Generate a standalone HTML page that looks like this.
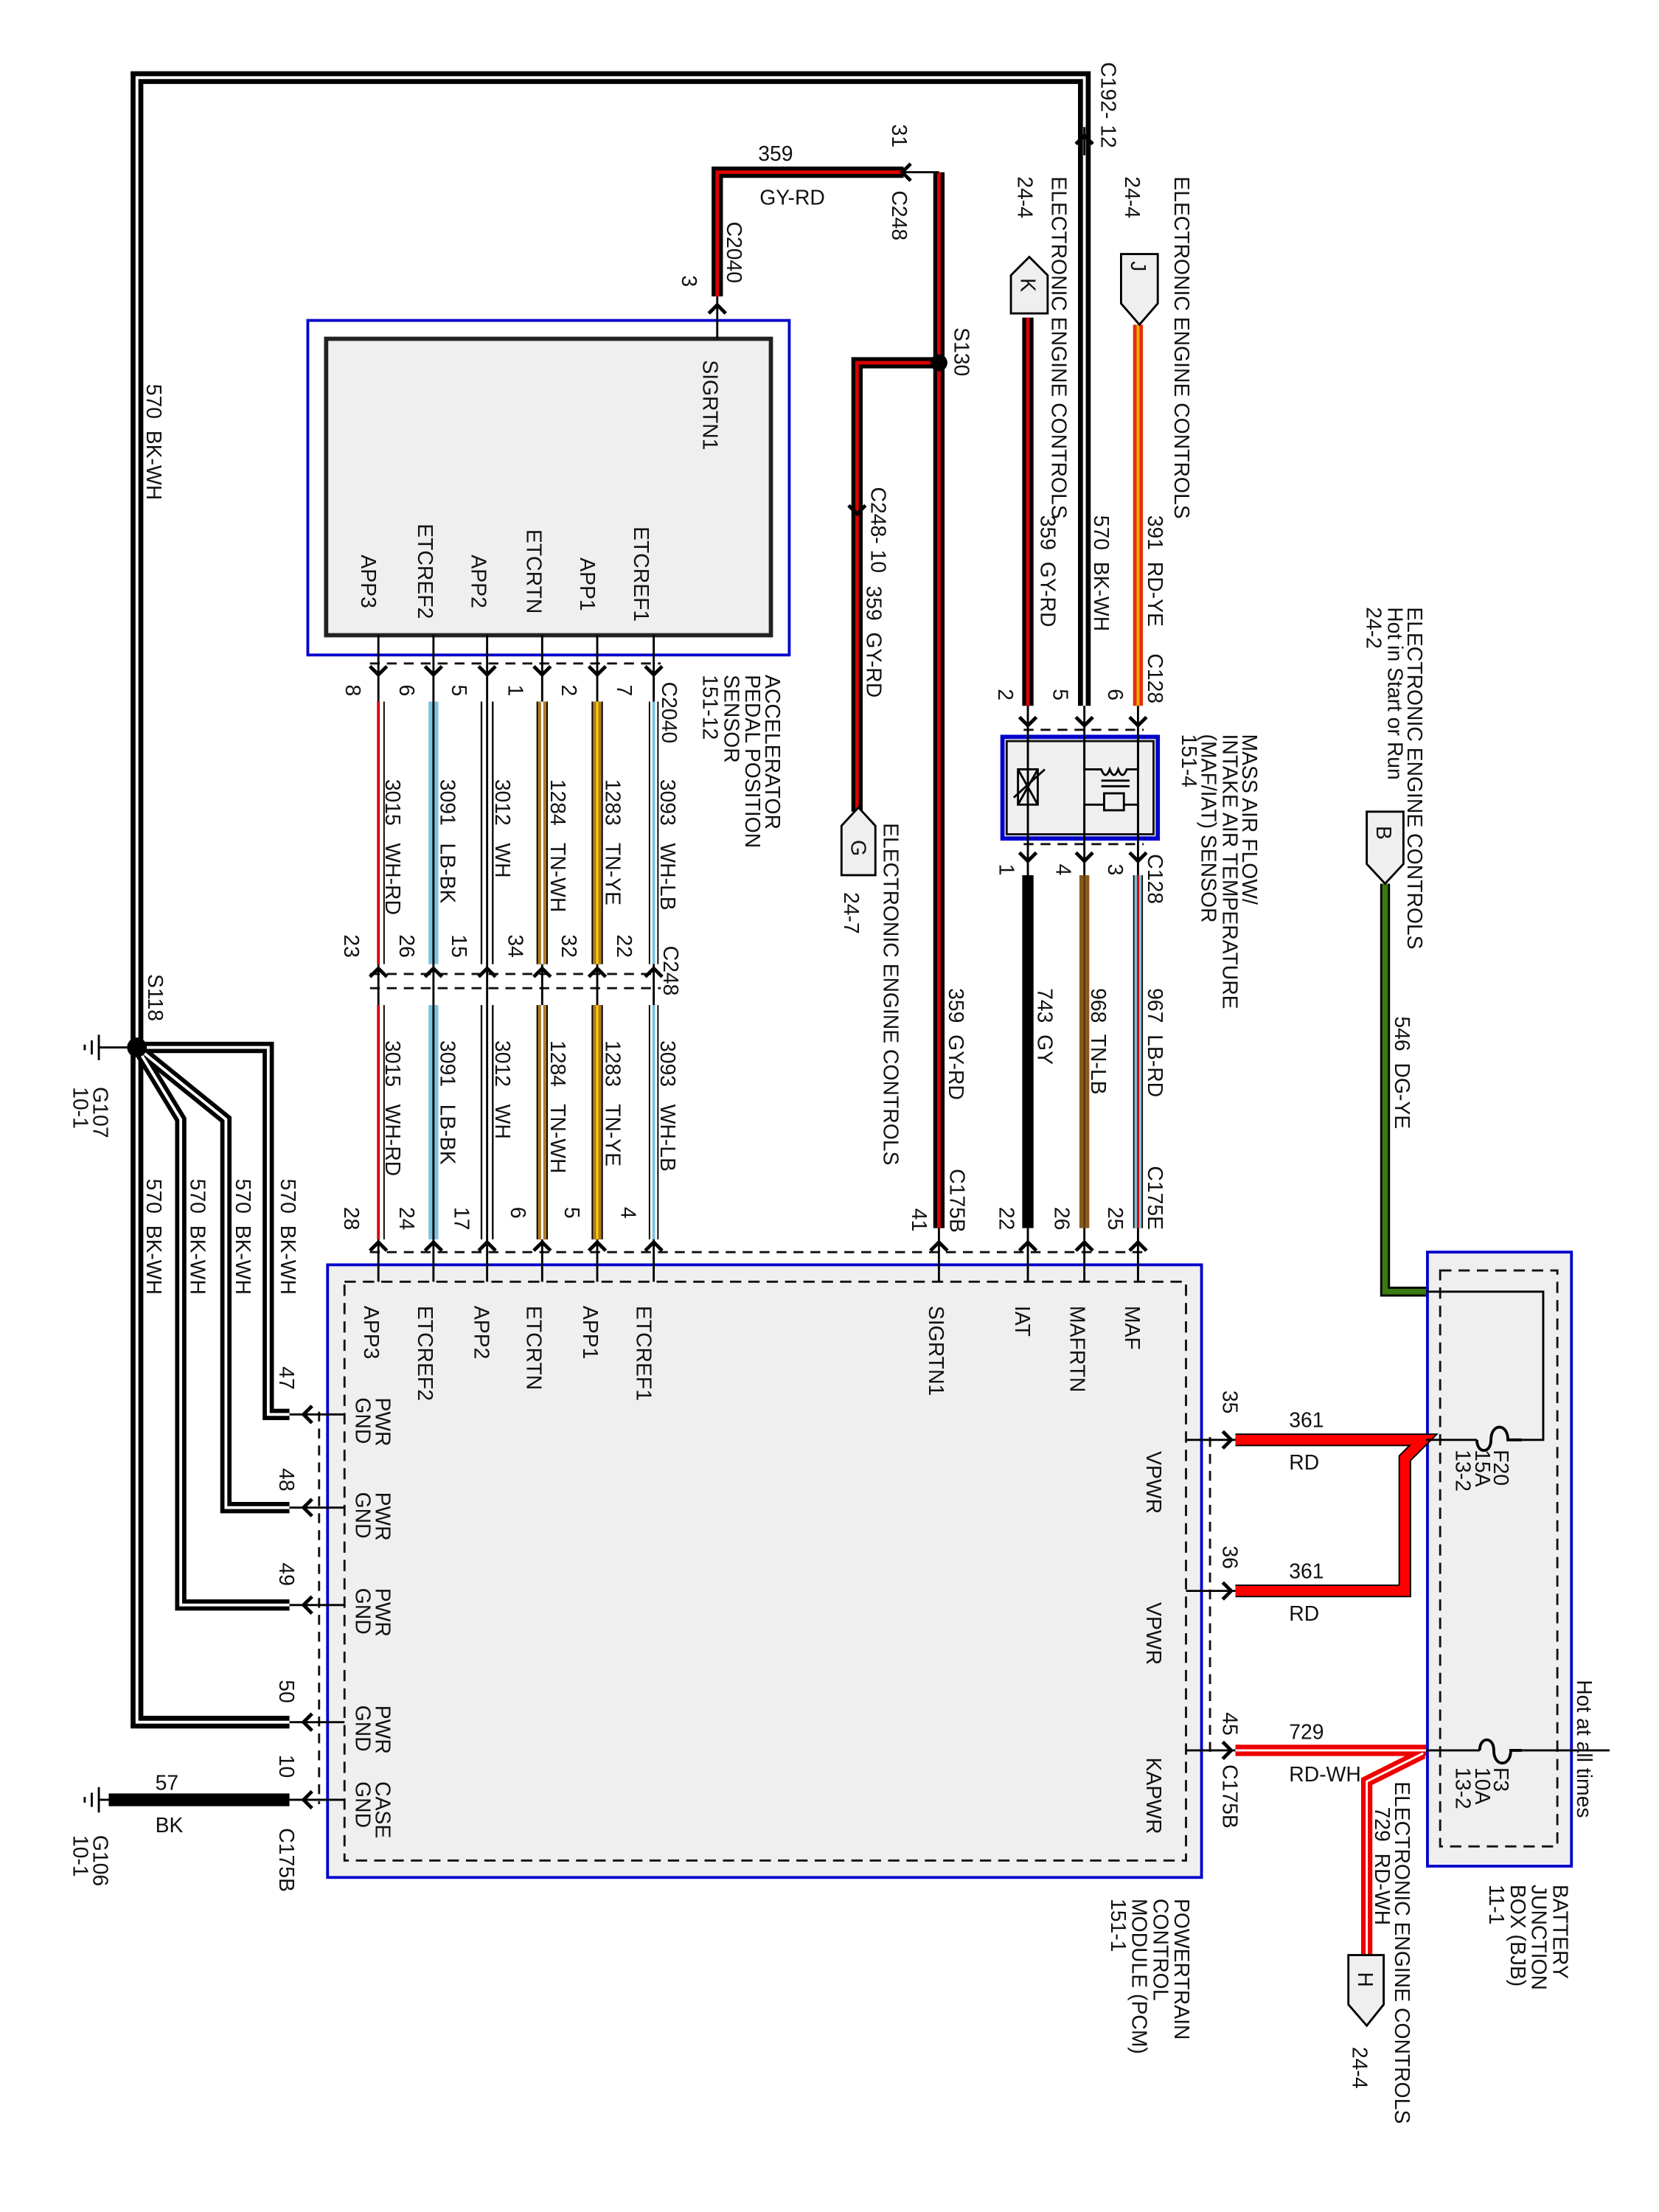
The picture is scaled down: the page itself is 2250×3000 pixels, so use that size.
<!DOCTYPE html>
<html><head><meta charset="utf-8"><style>
html,body{margin:0;padding:0;background:#fff}
svg{display:block}
text{font-family:"Liberation Sans",Arial,sans-serif;font-size:14.8px;fill:#111;white-space:pre}
</style></head><body>
<svg width="2250" height="3000" viewBox="0 0 1175 1567" preserveAspectRatio="none" xmlns="http://www.w3.org/2000/svg" xml:space="preserve">
<rect x="218" y="227" width="341" height="237" fill="#fff" stroke="#0000cc" stroke-width="2"/>
<rect x="231" y="240" width="315" height="210" fill="#efefef" stroke="#222" stroke-width="3"/>
<rect x="232" y="896" width="619" height="434" fill="#efefef" stroke="#0000cc" stroke-width="2"/>
<rect x="244" y="908" width="596" height="410" fill="none" stroke="#111" stroke-width="1.5" stroke-dasharray="8,5"/>
<rect x="1011" y="887" width="102" height="435" fill="#efefef" stroke="#0000cc" stroke-width="2"/>
<rect x="1020" y="900" width="83" height="408" fill="none" stroke="#111" stroke-width="1.5" stroke-dasharray="8,5"/>
<rect x="710" y="522" width="110" height="72" fill="#efefef" stroke="#0000cc" stroke-width="3"/>
<rect x="713" y="525" width="104" height="66" fill="none" stroke="#111" stroke-width="1.5"/>

<g stroke="#111" stroke-width="1.5" stroke-dasharray="7,5" fill="none">
<line x1="262" y1="470" x2="468" y2="470"/>
<line x1="262" y1="690" x2="468" y2="690"/>
<line x1="262" y1="700" x2="468" y2="700"/>
<line x1="262" y1="887" x2="812" y2="887"/>
<line x1="725" y1="517" x2="810" y2="517"/>
<line x1="725" y1="598" x2="810" y2="598"/>
<line x1="226" y1="1000" x2="226" y2="1278"/>
<line x1="857" y1="1018" x2="857" y2="1245"/>
</g>

<g fill="none" stroke-linejoin="miter">
<path d="M205 1220 L97 1220 L97 55 L768 55 L768 500" stroke="#000" stroke-width="9"/>
<path d="M205 1220 L97 1220 L97 55 L768 55 L768 500" stroke="#fff" stroke-width="2"/>
<path d="M97 742 L190 742 L190 1002 L205 1002 M97 742 L160 793 L160 1068 L205 1068 M97 742 L128 793 L128 1137 L205 1137" stroke="#000" stroke-width="8"/>
<path d="M97 742 L190 742 L190 1002 L205 1002 M97 742 L160 793 L160 1068 L205 1068 M97 742 L128 793 L128 1137 L205 1137" stroke="#fff" stroke-width="2"/>
<line x1="77" y1="1275" x2="205" y2="1275" stroke="#000" stroke-width="9"/>
<path d="M508 210 L508 122 L640 122 M665 122 L665 870 M665 257 L607 257 L607 575" stroke="#000" stroke-width="8"/>
<path d="M508 210 L508 122 L640 122 M665 122 L665 870 M665 257 L607 257 L607 575" stroke="#d00" stroke-width="2.5"/>
<line x1="728" y1="225" x2="728" y2="500" stroke="#000" stroke-width="8"/>
<line x1="728" y1="225" x2="728" y2="500" stroke="#d00" stroke-width="2.5"/>
<line x1="806" y1="230" x2="806" y2="500" stroke="#e03010" stroke-width="7"/>
<line x1="806" y1="230" x2="806" y2="500" stroke="#f4b000" stroke-width="2"/>
<line x1="806" y1="620" x2="806" y2="870" stroke="#111" stroke-width="7"/>
<line x1="806" y1="620" x2="806" y2="870" stroke="#7ec3dd" stroke-width="5"/>
<line x1="806" y1="620" x2="806" y2="870" stroke="#d00" stroke-width="1.5"/>
<line x1="768" y1="620" x2="768" y2="870" stroke="#8a5a1a" stroke-width="7"/>
<line x1="768" y1="620" x2="768" y2="870" stroke="#4a3010" stroke-width="1"/>
<line x1="728" y1="620" x2="728" y2="870" stroke="#000" stroke-width="8"/>
<path d="M981 626 L981 915 L1010 915" stroke="#000" stroke-width="7"/>
<path d="M981 626 L981 915 L1010 915" stroke="#3a7a10" stroke-width="4"/>
<path d="M1010 915 L1093 915 L1093 1020 L1078 1020" stroke="#000" stroke-width="1.5"/>
<path d="M875 1020 L1008 1020 L995 1033 L995 1127 L875 1127" stroke="#000" stroke-width="9"/>
<path d="M875 1020 L1008 1020 L995 1033 L995 1127 L875 1127" stroke="#f00" stroke-width="7"/>
<path d="M875 1240 L1010 1240 M1008 1242 L968 1262 L968 1385" stroke="#e00" stroke-width="8"/>
<path d="M875 1240 L1010 1240 M1008 1242 L968 1262 L968 1385" stroke="#fff" stroke-width="1.5"/>
<g stroke="#000" stroke-width="1.5">
<line x1="1010" y1="1020" x2="1046" y2="1020"/>
<line x1="1010" y1="1240" x2="1048" y2="1240"/>
<line x1="1078" y1="1240" x2="1140" y2="1240"/>
<line x1="205" y1="1002" x2="244" y2="1002"/>
<line x1="205" y1="1068" x2="244" y2="1068"/>
<line x1="205" y1="1137" x2="244" y2="1137"/>
<line x1="205" y1="1220" x2="244" y2="1220"/>
<line x1="205" y1="1275" x2="244" y2="1275"/>
<line x1="840" y1="1020" x2="875" y2="1020"/>
<line x1="840" y1="1127" x2="875" y2="1127"/>
<line x1="840" y1="1240" x2="875" y2="1240"/>
<line x1="640" y1="122" x2="665" y2="122"/>
<line x1="508" y1="210" x2="508" y2="240"/>
<line x1="665" y1="870" x2="665" y2="908"/>
<line x1="806" y1="500" x2="806" y2="620"/>
<line x1="768" y1="500" x2="768" y2="620"/>
<line x1="728" y1="500" x2="728" y2="620"/>
<line x1="806" y1="870" x2="806" y2="908"/>
<line x1="768" y1="870" x2="768" y2="908"/>
<line x1="728" y1="870" x2="728" y2="908"/>
<line x1="981" y1="612" x2="981" y2="626"/>
<line x1="768" y1="90" x2="768" y2="110"/>
</g>
<path d="M1046 1020 C1046 1030 1056 1030 1056 1020 C1056 1008 1068 1008 1068 1020 L1078 1020" stroke="#000" stroke-width="2" fill="none"/>
<path d="M1048 1240 C1048 1230 1058 1230 1058 1240 C1058 1252 1070 1252 1070 1240 L1078 1240" stroke="#000" stroke-width="2" fill="none"/>
</g>

<g fill="none">
<g stroke-width="1.5" stroke="#000">
<line x1="463" y1="450" x2="463" y2="908"/><line x1="423" y1="450" x2="423" y2="908"/>
<line x1="384" y1="450" x2="384" y2="908"/><line x1="345" y1="450" x2="345" y2="908"/>
<line x1="307" y1="450" x2="307" y2="908"/><line x1="268" y1="450" x2="268" y2="908"/>
</g>
<path d="M460 497V683M466 497V683M460 712V878M466 712V878" stroke="#000" stroke-width="1"/>
<path d="M463 497V683M463 712V878" stroke="#7ec3dd" stroke-width="2"/>
<path d="M423 497V683M423 712V878" stroke="#000" stroke-width="8"/>
<path d="M423 497V683M423 712V878" stroke="#b07a20" stroke-width="6"/>
<path d="M423 497V683M423 712V878" stroke="#ffd000" stroke-width="1.5"/>
<path d="M384 497V683M384 712V878" stroke="#000" stroke-width="8"/>
<path d="M384 497V683M384 712V878" stroke="#b07a20" stroke-width="6"/>
<path d="M384 497V683M384 712V878" stroke="#fff" stroke-width="1.5"/>
<path d="M341 497V683M349 497V683M341 712V878M349 712V878" stroke="#000" stroke-width="1.2"/>
<path d="M307 497V683M307 712V878" stroke="#7ec3dd" stroke-width="7"/>
<path d="M307 497V683M307 712V878" stroke="#000" stroke-width="1.5"/>
<path d="M268 497V683M268 712V878" stroke="#d00" stroke-width="2"/>
<path d="M272 497V683M272 712V878" stroke="#000" stroke-width="1"/>
</g>

<g fill="none" stroke="#000" stroke-width="2.5">
<path d="M457 472l6 6 6-6M417 472l6 6 6-6M378 472l6 6 6-6M339 472l6 6 6-6M301 472l6 6 6-6M262 472l6 6 6-6"/>
<path d="M457 692l6-6 6 6M417 692l6-6 6 6M378 692l6-6 6 6M339 692l6-6 6 6M301 692l6-6 6 6M262 692l6-6 6 6"/>
<path d="M457 886l6-6 6 6M417 886l6-6 6 6M378 886l6-6 6 6M339 886l6-6 6 6M301 886l6-6 6 6M262 886l6-6 6 6M659 886l6-6 6 6M722 886l6-6 6 6M762 886l6-6 6 6M800 886l6-6 6 6"/>
<path d="M800 508l6 6 6-6M762 508l6 6 6-6M722 508l6 6 6-6M800 604l6 6 6-6M762 604l6 6 6-6M722 604l6 6 6-6"/>
<path d="M502 222l6-6 6 6M601 358l6 6 6-6M762 102l6-6 6 6M645 116l-6 6 6 6"/>
<path d="M221 996l-6 6 6 6M221 1062l-6 6 6 6M221 1131l-6 6 6 6M221 1214l-6 6 6 6M221 1269l-6 6 6 6"/>
<path d="M866 1014l6 6-6 6M866 1121l6 6-6 6M866 1234l6 6-6 6"/>
</g>
<circle cx="665" cy="257" r="6" fill="#000"/>
<circle cx="97" cy="742" r="7" fill="#000"/>
<g stroke="#000" stroke-width="1.5"><line x1="70" y1="742" x2="90" y2="742"/><line x1="70" y1="733" x2="70" y2="751"/><line x1="65" y1="737" x2="65" y2="747"/><line x1="60" y1="740" x2="60" y2="744"/>
<line x1="70" y1="1275" x2="80" y2="1275"/><line x1="70" y1="1266" x2="70" y2="1284"/><line x1="65" y1="1270" x2="65" y2="1280"/><line x1="60" y1="1273" x2="60" y2="1277"/></g>
<g fill="none" stroke="#000" stroke-width="1.5">
<path d="M768 525 L768 545 L780 545 q3 8 6 0 q3 8 6 0 q3 8 6 0 L806 545 L806 525"/>
<line x1="780" y1="553" x2="800" y2="553"/><line x1="780" y1="557" x2="800" y2="557"/>
<rect x="782" y="562" width="14" height="12"/>
<path d="M768 594 L768 570 L782 570 M796 570 L806 570 L806 594"/>
<rect x="721" y="545" width="14" height="25"/>
<path d="M721 545 L735 570 M735 545 L721 570 M718 565 L740 545"/>
</g>
<g fill="#efefef" stroke="#000" stroke-width="1.5">
<path d="M716 222 L716 195 L729 182 L742 195 L742 222 Z"/>
<path d="M794 180 L820 180 L820 215 L807 230 L794 215 Z"/>
<path d="M596 620 L596 585 L608 572 L620 585 L620 620 Z"/>
<path d="M968 575 L994 575 L994 612 L981 626 L968 612 Z"/>
<path d="M955 1385 L980 1385 L980 1420 L968 1435 L955 1420 Z"/>
</g>

<text x="537" y="114">359</text><text x="538" y="145">GY-RD</text>
<text x="913" y="1011">361</text><text x="913" y="1041">RD</text>
<text x="913" y="1118">361</text><text x="913" y="1148">RD</text>
<text x="913" y="1232">729</text><text x="913" y="1262">RD-WH</text>
<text x="110" y="1268">57</text><text x="110" y="1298">BK</text>

<g>
<text transform="translate(104,272) rotate(90)">570  BK-WH</text>
<text transform="translate(780,44) rotate(90)">C192- 12</text>
<text transform="translate(721,125) rotate(90)">24-4</text>
<text transform="translate(745,125) rotate(90)">ELECTRONIC ENGINE CONTROLS</text>
<text transform="translate(797,125) rotate(90)">24-4</text>
<text transform="translate(832,125) rotate(90)">ELECTRONIC ENGINE CONTROLS</text>
<text transform="translate(723,197) rotate(90)">K</text>
<text transform="translate(801,185) rotate(90)">J</text>
<text transform="translate(603,595) rotate(90)">G</text>
<text transform="translate(975,585) rotate(90)">B</text>
<text transform="translate(962,1397) rotate(90)">H</text>
<text transform="translate(737,365) rotate(90)">359  GY-RD</text>
<text transform="translate(775,365) rotate(90)">570  BK-WH</text>
<text transform="translate(813,365) rotate(90)">391  RD-YE</text>
<text transform="translate(813,463) rotate(90)">C128</text>
<text transform="translate(707,488) rotate(90)">2</text>
<text transform="translate(746,488) rotate(90)">5</text>
<text transform="translate(785,488) rotate(90)">6</text>
<text transform="translate(880,520) rotate(90)">MASS AIR FLOW/</text>
<text transform="translate(866,520) rotate(90)">INTAKE AIR TEMPERATURE</text>
<text transform="translate(851,520) rotate(90)">(MAF/IAT) SENSOR</text>
<text transform="translate(837,520) rotate(90)">151-4</text>
<text transform="translate(813,605) rotate(90)">C128</text>
<text transform="translate(785,612) rotate(90)">3</text>
<text transform="translate(748,612) rotate(90)">4</text>
<text transform="translate(708,612) rotate(90)">1</text>
<text transform="translate(813,700) rotate(90)">967  LB-RD</text>
<text transform="translate(773,700) rotate(90)">968  TN-LB</text>
<text transform="translate(735,700) rotate(90)">743  GY</text>
<text transform="translate(813,826) rotate(90)">C175E</text>
<text transform="translate(785,855) rotate(90)">25</text>
<text transform="translate(747,855) rotate(90)">26</text>
<text transform="translate(708,855) rotate(90)">22</text>
<text transform="translate(797,925) rotate(90)">MAF</text>
<text transform="translate(758,925) rotate(90)">MAFRTN</text>
<text transform="translate(719,925) rotate(90)">IAT</text>
<text transform="translate(658,925) rotate(90)">SIGRTN1</text>
<text transform="translate(451,925) rotate(90)">ETCREF1</text>
<text transform="translate(413,925) rotate(90)">APP1</text>
<text transform="translate(373,925) rotate(90)">ETCRTN</text>
<text transform="translate(336,925) rotate(90)">APP2</text>
<text transform="translate(296,925) rotate(90)">ETCREF2</text>
<text transform="translate(258,925) rotate(90)">APP3</text>
<text transform="translate(812,1028) rotate(90)">VPWR</text>
<text transform="translate(812,1135) rotate(90)">VPWR</text>
<text transform="translate(812,1245) rotate(90)">KAPWR</text>
<text transform="translate(266,990) rotate(90)">PWR</text><text transform="translate(252,990) rotate(90)">GND</text>
<text transform="translate(266,1057) rotate(90)">PWR</text><text transform="translate(252,1057) rotate(90)">GND</text>
<text transform="translate(266,1125) rotate(90)">PWR</text><text transform="translate(252,1125) rotate(90)">GND</text>
<text transform="translate(266,1208) rotate(90)">PWR</text><text transform="translate(252,1208) rotate(90)">GND</text>
<text transform="translate(266,1262) rotate(90)">CASE</text><text transform="translate(252,1262) rotate(90)">GND</text>
<text transform="translate(198,968) rotate(90)">47</text>
<text transform="translate(198,1040) rotate(90)">48</text>
<text transform="translate(198,1107) rotate(90)">49</text>
<text transform="translate(198,1190) rotate(90)">50</text>
<text transform="translate(198,1243) rotate(90)">10</text>
<text transform="translate(198,1295) rotate(90)">C175B</text>
<text transform="translate(866,985) rotate(90)">35</text>
<text transform="translate(866,1095) rotate(90)">36</text>
<text transform="translate(866,1213) rotate(90)">45</text>
<text transform="translate(866,1250) rotate(90)">C175B</text>
<text transform="translate(832,1345) rotate(90)">POWERTRAIN</text>
<text transform="translate(817,1345) rotate(90)">CONTROL</text>
<text transform="translate(802,1345) rotate(90)">MODULE (PCM)</text>
<text transform="translate(787,1345) rotate(90)">151-1</text>
<text transform="translate(498,255) rotate(90)">SIGRTN1</text>
<text transform="translate(449,373) rotate(90)">ETCREF1</text>
<text transform="translate(411,395) rotate(90)">APP1</text>
<text transform="translate(373,375) rotate(90)">ETCRTN</text>
<text transform="translate(334,393) rotate(90)">APP2</text>
<text transform="translate(296,371) rotate(90)">ETCREF2</text>
<text transform="translate(256,393) rotate(90)">APP3</text>
<text transform="translate(542,478) rotate(90)">ACCELERATOR</text>
<text transform="translate(528,478) rotate(90)">PEDAL POSITION</text>
<text transform="translate(513,478) rotate(90)">SENSOR</text>
<text transform="translate(498,478) rotate(90)">151-12</text>
<text transform="translate(469,483) rotate(90)">C2040</text>
<text transform="translate(437,485) rotate(90)">7</text>
<text transform="translate(398,485) rotate(90)">2</text>
<text transform="translate(360,485) rotate(90)">1</text>
<text transform="translate(320,485) rotate(90)">5</text>
<text transform="translate(283,485) rotate(90)">6</text>
<text transform="translate(245,485) rotate(90)">8</text>
<text transform="translate(468,552) rotate(90)">3093   WH-LB</text>
<text transform="translate(429,552) rotate(90)">1283   TN-YE</text>
<text transform="translate(390,552) rotate(90)">1284   TN-WH</text>
<text transform="translate(351,552) rotate(90)">3012   WH</text>
<text transform="translate(312,552) rotate(90)">3091   LB-BK</text>
<text transform="translate(273,552) rotate(90)">3015   WH-RD</text>
<text transform="translate(470,670) rotate(90)">C248</text>
<text transform="translate(437,662) rotate(90)">22</text>
<text transform="translate(398,662) rotate(90)">32</text>
<text transform="translate(360,662) rotate(90)">34</text>
<text transform="translate(320,662) rotate(90)">15</text>
<text transform="translate(283,662) rotate(90)">26</text>
<text transform="translate(244,662) rotate(90)">23</text>
<text transform="translate(468,737) rotate(90)">3093   WH-LB</text>
<text transform="translate(429,737) rotate(90)">1283   TN-YE</text>
<text transform="translate(390,737) rotate(90)">1284   TN-WH</text>
<text transform="translate(351,737) rotate(90)">3012   WH</text>
<text transform="translate(312,737) rotate(90)">3091   LB-BK</text>
<text transform="translate(273,737) rotate(90)">3015   WH-RD</text>
<text transform="translate(440,855) rotate(90)">4</text>
<text transform="translate(400,855) rotate(90)">5</text>
<text transform="translate(362,855) rotate(90)">6</text>
<text transform="translate(322,855) rotate(90)">17</text>
<text transform="translate(283,855) rotate(90)">24</text>
<text transform="translate(244,855) rotate(90)">28</text>
<text transform="translate(483,195) rotate(90)">3</text>
<text transform="translate(515,157) rotate(90)">C2040</text>
<text transform="translate(632,88) rotate(90)">31</text>
<text transform="translate(632,135) rotate(90)">C248</text>
<text transform="translate(676,232) rotate(90)">S130</text>
<text transform="translate(617,345) rotate(90)">C248- 10</text>
<text transform="translate(614,415) rotate(90)">359  GY-RD</text>
<text transform="translate(626,583) rotate(90)">ELECTRONIC ENGINE CONTROLS</text>
<text transform="translate(598,632) rotate(90)">24-7</text>
<text transform="translate(672,700) rotate(90)">359  GY-RD</text>
<text transform="translate(673,828) rotate(90)">C175B</text>
<text transform="translate(646,856) rotate(90)">41</text>
<text transform="translate(105,690) rotate(90)">S118</text>
<text transform="translate(66,770) rotate(90)">G107</text>
<text transform="translate(52,770) rotate(90)">10-1</text>
<text transform="translate(199,835) rotate(90)">570  BK-WH</text>
<text transform="translate(167,835) rotate(90)">570  BK-WH</text>
<text transform="translate(135,835) rotate(90)">570  BK-WH</text>
<text transform="translate(104,835) rotate(90)">570  BK-WH</text>
<text transform="translate(66,1300) rotate(90)">G106</text>
<text transform="translate(52,1300) rotate(90)">10-1</text>
<text transform="translate(997,430) rotate(90)">ELECTRONIC ENGINE CONTROLS</text>
<text transform="translate(983,430) rotate(90)">Hot in Start or Run</text>
<text transform="translate(968,430) rotate(90)">24-2</text>
<text transform="translate(988,720) rotate(90)">546  DG-YE</text>
<text transform="translate(1058,1027) rotate(90)">F20</text>
<text transform="translate(1045,1027) rotate(90)">15A</text>
<text transform="translate(1031,1027) rotate(90)">13-2</text>
<text transform="translate(1058,1252) rotate(90)">F3</text>
<text transform="translate(1045,1252) rotate(90)">10A</text>
<text transform="translate(1031,1252) rotate(90)">13-2</text>
<text transform="translate(1117,1190) rotate(90)">Hot at all times</text>
<text transform="translate(1100,1335) rotate(90)">BATTERY</text>
<text transform="translate(1085,1335) rotate(90)">JUNCTION</text>
<text transform="translate(1070,1335) rotate(90)">BOX (BJB)</text>
<text transform="translate(1055,1335) rotate(90)">11-1</text>
<text transform="translate(988,1262) rotate(90)">ELECTRONIC ENGINE CONTROLS</text>
<text transform="translate(974,1280) rotate(90)">729  RD-WH</text>
<text transform="translate(958,1450) rotate(90)">24-4</text>
</g>
</svg>
</body></html>
